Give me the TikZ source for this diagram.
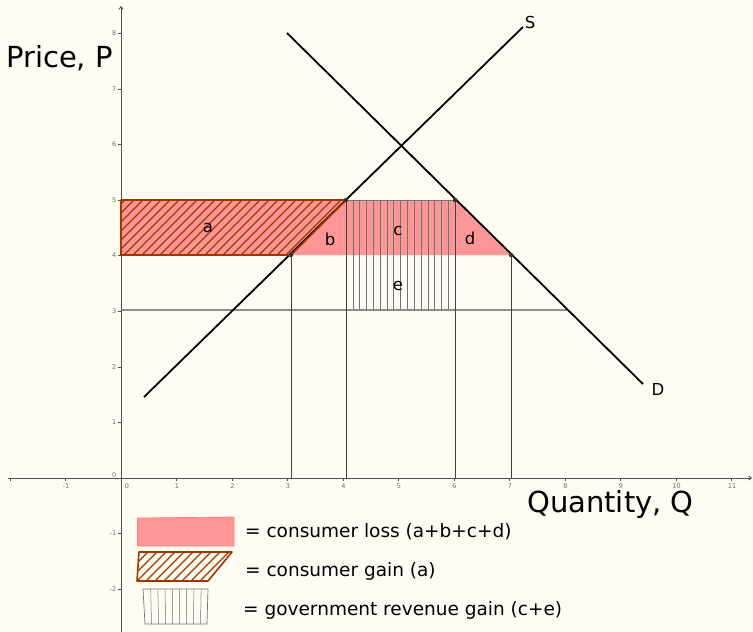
\documentclass[tikz,border=0pt]{standalone}
\usepackage{fontspec}
\setmainfont{DejaVu Sans}
\usetikzlibrary{arrows.meta}
\definecolor{bg}{RGB}{255,253,242}
\definecolor{loss}{RGB}{255,150,150}
\definecolor{lossedge}{RGB}{255,125,125}
\definecolor{brn}{RGB}{160,55,0}
\definecolor{axisc}{RGB}{80,80,80}
\definecolor{tickc}{RGB}{110,110,110}
\tikzset{
  axisline/.style={axisc, line width=1pt},
  ticklab/.style={font=\fontsize{6.5}{7}\selectfont, text=tickc, inner sep=0pt},
  curve/.style={black, line width=1.8pt},
  dropline/.style={black!75, line width=0.8pt},
  pricel/.style={black!45, line width=1.1pt},
  vhatch/.style={black!55, line width=0.5pt},
  dhatch/.style={brn, line width=1.1pt},
  hatchedge/.style={brn, line width=1.6pt, line join=round},
  dotpt/.style={circle, fill=black!80, inner sep=0pt, minimum size=4.5pt},
  reglab/.style={font=\fontsize{16.5}{18}\selectfont, inner sep=0pt},
  bigtitle/.style={font=\fontsize{29}{32}\selectfont, inner sep=0pt, anchor=base west},
  legtext/.style={font=\fontsize{18.5}{20}\selectfont, inner sep=0pt, anchor=base west}
}
\begin{document}
\begin{tikzpicture}[x=1pt,y=-1pt]
\fill[bg] (0,0) rectangle (753,632);
\useasboundingbox (0,0) rectangle (753,632);

% key coordinates
\coordinate (O) at (121,478);
\coordinate (xl) at (8,478);
\coordinate (xr) at (752,478);
\coordinate (yb) at (121,632);
\coordinate (yt) at (121,6);
\coordinate (P5) at (121,200);
\coordinate (P4) at (121,255);
\coordinate (P3) at (121,310);
\coordinate (A) at (291,255);
\coordinate (B) at (346,200);
\coordinate (C) at (455,200);
\coordinate (E) at (511,255);
\coordinate (Cd) at (455,310);
\coordinate (W) at (568,310);
\coordinate (Ab) at (291,478);
\coordinate (Bb) at (346,478);
\coordinate (Cb) at (455,478);
\coordinate (Eb) at (511,478);
\coordinate (S0) at (144,397);
\coordinate (S1) at (523,27);
\coordinate (D0) at (287,33);
\coordinate (D1) at (643,384);

% consumer loss region
\fill[loss] (P5) -- (C) -- (E) -- (P4) -- cycle;

% government revenue rectangle (c+e)
\foreach \k in {1,...,15} {
  \draw[vhatch] (346+\k*6.8125,200) -- (346+\k*6.8125,310);
}
\draw[black!55, line width=0.7pt] (B) rectangle (Cd);

% world price line
\draw[pricel] (P3) -- (W);

% drop lines
\draw[dropline] (A) -- (Ab);
\draw[dropline] (B) -- (Bb);
\draw[dropline] (C) -- (Cb);
\draw[dropline] (E) -- (Eb);

% axes
\draw[axisline, -{Straight Barb[length=2.5pt,width=4pt]}] (xl) -- (xr);
\draw[axisline, -{Straight Barb[length=2.5pt,width=4pt]}] (yb) -- (yt);
\foreach \i in {-2,...,11} {
  \draw[axisc, line width=0.6pt] (121+55.5*\i,478) -- (121+55.5*\i,481);
}
\foreach \i in {-1,1,2,3,4,5,6,7,8,9,10,11} {
  \node[ticklab] (xt\i) at (121.5+55.5*\i,486) {\i};
}
\node[ticklab] (xt0) at (127,486) {0};
\foreach \j in {-2,...,8} {
  \draw[axisc, line width=0.6pt] (118,478-55.6*\j) -- (121,478-55.6*\j);
}
\foreach \j in {-2,-1,1,2,3,4,5,6,7,8} {
  \node[ticklab, anchor=east] (yt\j) at (116.5,478-55.6*\j) {\j};
}
\node[ticklab, anchor=east] (yt0) at (116.5,475) {0};

% supply curve (under the hatched region)
\draw[curve] (S0) -- (S1);

% consumer gain (a)
\begin{scope}
  \clip (P5) -- (B) -- (A) -- (P4) -- cycle;
  \foreach \k in {0,...,30} {
    \draw[dhatch] (70+\k*9,255) -- (125+\k*9,200);
  }
\end{scope}
\draw[hatchedge] (P5) -- (B) -- (A) -- (P4) -- cycle;

% demand curve
\draw[curve] (D0) -- (D1);

% points
\node[dotpt] (pA) at (A) {};
\node[dotpt] (pB) at (B) {};
\node[dotpt] (pC) at (C) {};
\node[dotpt] (pE) at (E) {};

% labels
\node[reglab] (la) at (208,228) {a};
\node[reglab] (lb) at (330,239) {b};
\node[reglab] (lc) at (398,231) {c};
\node[reglab] (ld) at (470,238) {d};
\node[reglab] (le) at (398,286) {e};
\node[reglab] (lS) at (530,22) {S};
\node[reglab] (lD) at (658,389) {D};
\node[bigtitle] (tp) at (6,67) {Price, P};
\node[bigtitle] (tq) at (527,512) {Quantity, Q};

% legend
\fill[loss, draw=lossedge, line width=0.7pt] (137.5,518) -- (234,517) -- (234,546) -- (137.5,546) -- cycle;
\begin{scope}
  \clip (139,552) -- (232,552) -- (208,581) -- (137,581) -- cycle;
  \foreach \k in {0,...,14} {
    \draw[dhatch] (110+\k*9,581) -- (139+\k*9,552);
  }
\end{scope}
\draw[hatchedge] (139,552) -- (232,552) -- (208,581) -- (137,581) -- cycle;
\foreach \k in {1,...,8} {
  \draw[vhatch] (143.5+\k*7.2,589) -- (144.5+\k*7.0,624);
}
\draw[black!55, line width=0.7pt] (143,589) -- (208,589) -- (207,624) -- (145,624) -- cycle;
\node[legtext] (t1) at (245,537) {= consumer loss (a+b+c+d)};
\node[legtext] (t2) at (245,576) {= consumer gain (a)};
\node[legtext] (t3) at (243,615) {= government revenue gain (c+e)};
\end{tikzpicture}
\end{document}
